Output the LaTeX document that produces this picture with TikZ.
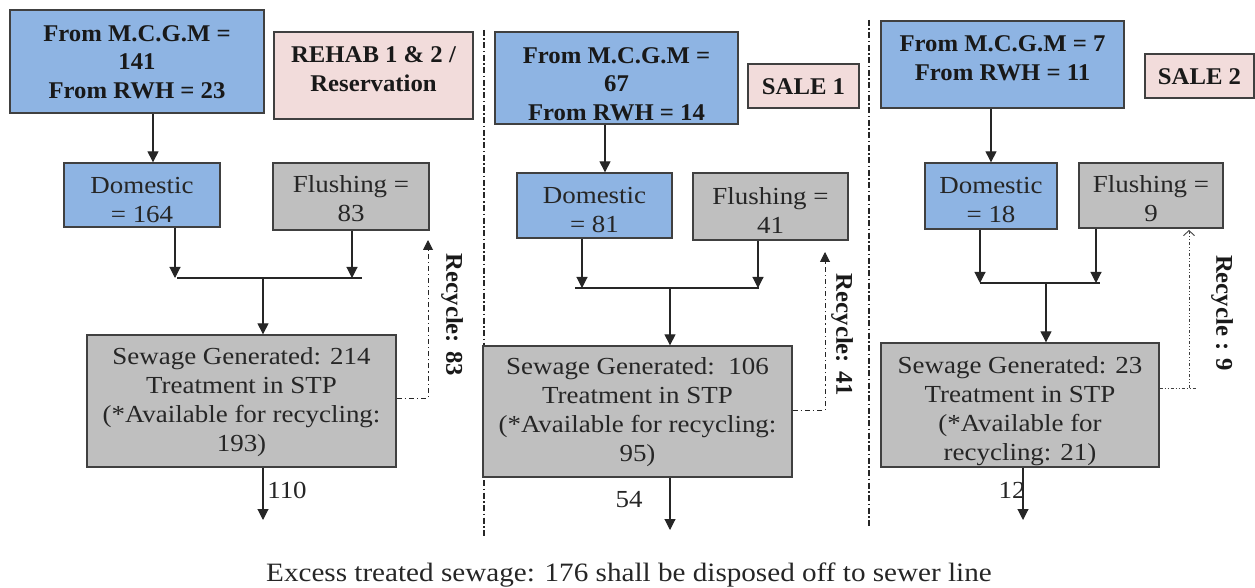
\documentclass[tikz,border=0pt]{standalone}
\usepackage{fontspec}
\setmainfont{Liberation Serif}
\newfontfamily\regfont{Liberation Serif}[FakeStretch=1.1]
\newfontfamily\boldfnt{Liberation Serif Bold}[FakeStretch=1.03]
\usetikzlibrary{arrows.meta}
\definecolor{boxblue}{RGB}{142,180,227}
\definecolor{boxpink}{RGB}{242,220,219}
\definecolor{boxgray}{RGB}{191,191,191}
\definecolor{edgecol}{RGB}{64,64,64}
\tikzset{
  box/.style={draw=edgecol, line width=1.3bp, inner sep=0pt},
  bluebox/.style={box, fill=boxblue},
  pinkbox/.style={box, fill=boxpink},
  graybox/.style={box, fill=boxgray},
  txt/.style={align=center, inner sep=0pt, text=black!85, font=\regfont\fontsize{24.5bp}{29bp}\selectfont},
  foottxt/.style={inner sep=0pt, text=black!85, font=\regfont\fontsize{26.5bp}{30bp}\selectfont},
  btxt/.style={align=center, inner sep=0pt, text=black!90, font=\boldfnt\fontsize{24bp}{28.5bp}\selectfont},
  arr/.style={draw=black!85, line width=1.1bp, -{Triangle[length=11bp,width=11bp]}},
  plain/.style={draw=black!85, line width=1.1bp},
  sepline/.style={draw=black!85, line width=1.3bp, dash pattern=on 6bp off 2.5bp on 1.5bp off 2.5bp},
  recyc/.style={draw=black!85, line width=1bp, dash pattern=on 5bp off 3bp on 1.2bp off 3bp, -{Triangle[length=10bp,width=10bp]}},
  recycthin/.style={draw=black!75, line width=0.9bp, dash pattern=on 3bp off 2bp on 1bp off 2bp on 1bp off 2bp},
}
\begin{document}
\begin{tikzpicture}[x=1bp,y=-1bp]
\useasboundingbox (0,0) rectangle (1255,588);

% ---------- Panel 1 ----------
\node[bluebox, minimum width=254bp, minimum height=103bp] (t1) at (137,61.5) {};
\node[btxt] (t1t) at (137,62) {From M.C.G.M =\\141\\From RWH = 23};
\node[pinkbox, minimum width=199bp, minimum height=87bp] (p1) at (373.5,75.5) {};
\node[btxt] (p1t) at (373.5,69) {REHAB 1 \& 2 /\\Reservation};
\node[bluebox, minimum width=156bp, minimum height=64bp] (d1) at (142,195) {};
\node[txt] (d1t) at (142,200) {Domestic\\= 164};
\node[graybox, minimum width=156bp, minimum height=67bp] (f1) at (351,196.5) {};
\node[txt] (f1t) at (351,199) {Flushing =\\83};
\node[graybox, minimum width=309bp, minimum height=132bp] (s1) at (241.5,401) {};
\node[txt] (s1t) at (241.5,402) {Sewage Generated: 214\\Treatment in STP\\(*Available for recycling:\\193)};

\coordinate (j1) at (263,278);
\draw[plain] (177,278) -- (362,278);
\draw[arr] (153,0 |- t1.south) -- (153,0 |- d1.north);
\draw[arr] (175,0 |- d1.south) -- (175,0 |- j1);
\draw[arr] (352,0 |- f1.south) -- (352,0 |- j1);
\draw[arr] (j1) -- (j1 |- s1.north);
\coordinate (o1) at (263,520);
\draw[arr] (o1 |- s1.south) -- (o1);
\node[txt] (l1) at (287,490) {110};
\coordinate (r1) at (428,240);
\draw[recyc] (s1.east |- 0,398) -- (r1 |- 0,398) -- (r1);
\node[btxt, rotate=-90] (rl1) at (452,315) {Recycle: 83};

% ---------- separators ----------
\draw[sepline] (484,30) -- (484,537);
\draw[sepline] (869,20) -- (869,527);

% ---------- Panel 2 ----------
\node[bluebox, minimum width=243bp, minimum height=92bp] (t2) at (616.5,78) {};
\node[btxt] (t2t) at (616.5,84) {From M.C.G.M =\\67\\From RWH = 14};
\node[pinkbox, minimum width=111bp, minimum height=44bp] (p2) at (803.5,86) {};
\node[btxt] (p2t) at (803.5,87) {SALE 1};
\node[bluebox, minimum width=155bp, minimum height=65bp] (d2) at (594.5,205.5) {};
\node[txt] (d2t) at (594.5,210) {Domestic\\= 81};
\node[graybox, minimum width=155bp, minimum height=67bp] (f2) at (770.5,206.5) {};
\node[txt] (f2t) at (770.5,211) {Flushing =\\41};
\node[graybox, minimum width=309bp, minimum height=131bp] (s2) at (637.5,411.5) {};
\node[txt] (s2t) at (637.5,412) {Sewage Generated:~~106\\Treatment in STP\\(*Available for recycling:\\95)};

\coordinate (j2) at (670,288);
\draw[plain] (575,288) -- (759,288);
\draw[arr] (605,0 |- t2.south) -- (605,0 |- d2.north);
\draw[arr] (582,0 |- d2.south) -- (582,0 |- j2);
\draw[arr] (758,0 |- f2.south) -- (758,0 |- j2);
\draw[arr] (j2) -- (j2 |- s2.north);
\coordinate (o2) at (670,530);
\draw[arr] (o2 |- s2.south) -- (o2);
\node[txt] (l2) at (629,500) {54};
\coordinate (r2) at (825,252);
\draw[recyc] (s2.east |- 0,410) -- (r2 |- 0,410) -- (r2);
\node[btxt, rotate=-90] (rl2) at (842,335) {Recycle: 41};

% ---------- Panel 3 ----------
\node[bluebox, minimum width=243bp, minimum height=87bp] (t3) at (1002.5,64.5) {};
\node[btxt] (t3t) at (1002.5,58) {From M.C.G.M = 7\\From RWH = 11};
\node[pinkbox, minimum width=109bp, minimum height=44bp] (p3) at (1199.5,76) {};
\node[btxt] (p3t) at (1199.5,77) {SALE 2};
\node[bluebox, minimum width=132bp, minimum height=66bp] (d3) at (991,196) {};
\node[txt] (d3t) at (991,200) {Domestic\\= 18};
\node[graybox, minimum width=144bp, minimum height=65bp] (f3) at (1151,195.5) {};
\node[txt] (f3t) at (1151,199) {Flushing =\\9};
\node[graybox, minimum width=278bp, minimum height=124bp] (s3) at (1020,405) {};
\node[txt] (s3t) at (1020,411) {Sewage Generated: 23\\Treatment in STP\\(*Available for\\recycling: 21)};

\coordinate (j3) at (1046,283);
\draw[plain] (980,283) -- (1100,283);
\draw[arr] (991,0 |- t3.south) -- (991,0 |- d3.north);
\draw[arr] (980,0 |- d3.south) -- (980,0 |- j3);
\draw[arr] (1096,0 |- f3.south) -- (1096,0 |- j3);
\draw[arr] (j3) -- (j3 |- s3.north);
\coordinate (o3) at (1023,520);
\draw[arr] (o3 |- s3.south) -- (o3);
\node[txt] (l3) at (1012,490) {12};
\coordinate (r3) at (1189,230);
\draw[recycthin] (s3.east |- 0,388) -- (1197,388);
\draw[recycthin, -{Straight Barb[length=5bp,width=11bp]}] (r3 |- 0,388) -- (r3);
\node[btxt, rotate=-90] (rl3) at (1222,313) {Recycle : 9};

% ---------- footer ----------
\node[foottxt] (foot) at (629,575) {Excess treated sewage: 176 shall be disposed off to sewer line};
\end{tikzpicture}
\end{document}
